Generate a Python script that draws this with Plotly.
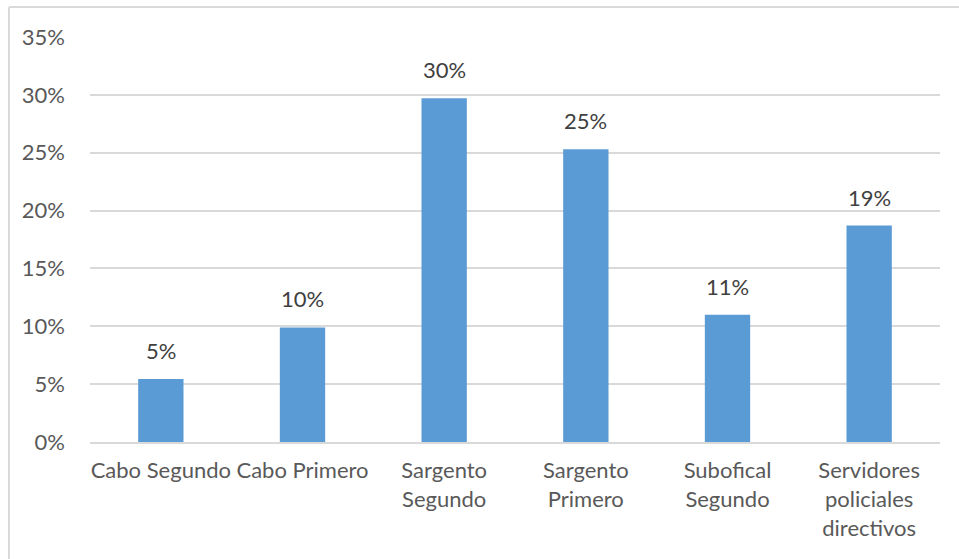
import plotly.graph_objects as go

# Distribution by rank (share of respondents)
categories = [
    "Cabo Segundo",
    "Cabo Primero",
    "Sargento<br>Segundo",
    "Sargento<br>Primero",
    "Subofical<br>Segundo",
    "Servidores<br>policiales<br>directivos",
]
shares = [0.0545, 0.099, 0.297, 0.253, 0.110, 0.187]

y_ticks = [0, 0.05, 0.10, 0.15, 0.20, 0.25, 0.30, 0.35]

FONT = "Lato"
FSIZE = 22
TICK_COLOR = "#595959"
LABEL_COLOR = "#404040"
GRID = "#d9d9d9"

W, H = 959, 559
ML, MR, MT, MB = 90, 19, 37, 117
PW, PH = W - ML - MR, H - MT - MB

fig = go.Figure(
    go.Bar(
        x=categories,
        y=shares,
        marker=dict(color="#5B9BD5", line=dict(width=0)),
        hoverinfo="skip",
    )
)

# value labels above each bar
for c, v in zip(categories, shares):
    fig.add_annotation(
        x=c, y=v, text=f"{v:.0%}", showarrow=False,
        yanchor="bottom", yshift=13,
        font=dict(family=FONT, size=FSIZE, color=LABEL_COLOR),
    )

# outer chart frame (top and left edges)
x0 = -(ML - 9) / PW
x1 = (W - ML) / PW
ytop = 1 + (MT - 7) / PH
ybot = -MB / PH
fig.add_shape(type="line", xref="paper", yref="paper", x0=x0, x1=x1, y0=ytop, y1=ytop,
              line=dict(color=GRID, width=2))
fig.add_shape(type="line", xref="paper", yref="paper", x0=x0, x1=x0, y0=ybot, y1=ytop,
              line=dict(color=GRID, width=2))

fig.update_layout(
    width=W, height=H,
    margin=dict(l=ML, r=MR, t=MT, b=MB),
    paper_bgcolor="white",
    plot_bgcolor="white",
    bargap=0.68,
    showlegend=False,
    font=dict(family=FONT, size=FSIZE, color=TICK_COLOR),
)
fig.update_xaxes(
    showgrid=False,
    showline=True, linecolor=GRID, linewidth=2,
    ticks="", tickfont=dict(family=FONT, size=FSIZE, color=TICK_COLOR),
    ticklabelstandoff=8,
    fixedrange=True,
)
fig.update_yaxes(
    range=[0, 0.35],
    tickvals=y_ticks,
    tickformat=".0%",
    showgrid=True, gridcolor=GRID, gridwidth=2,
    zeroline=False, showline=False,
    ticks="", tickfont=dict(family=FONT, size=FSIZE, color=TICK_COLOR),
    ticklabelstandoff=24,
    fixedrange=True,
)

fig.write_html("out.html")
